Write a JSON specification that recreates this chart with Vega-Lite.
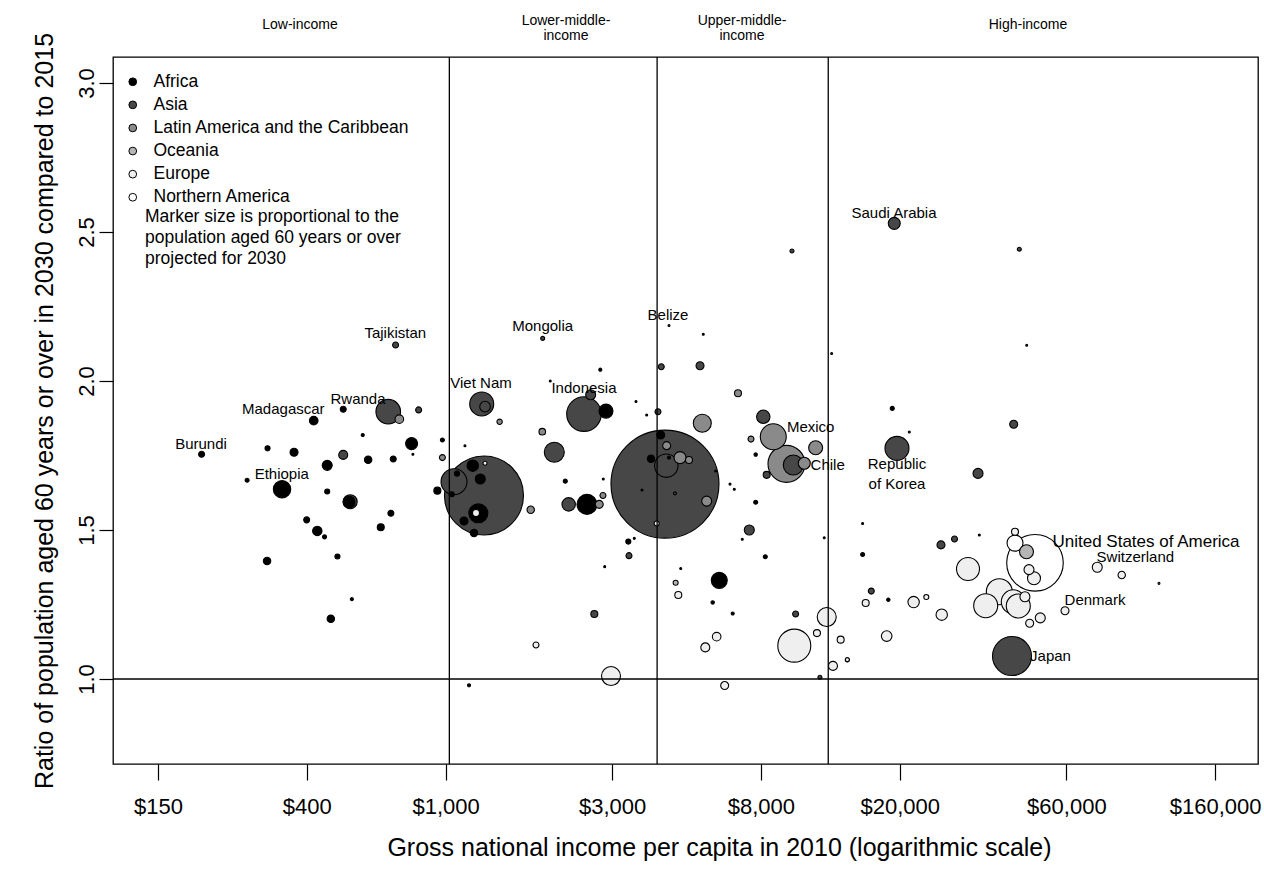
{
  "$schema": "https://vega.github.io/schema/vega-lite/v6.json",
  "width": 1145,
  "height": 707,
  "autosize": {"type": "none"},
  "padding": {"left": 113, "top": 57, "right": 6, "bottom": 118},
  "background": "white",
  "config": {
    "view": {"stroke": "#000000", "strokeWidth": 1.3},
    "font": "Liberation Sans"
  },
  "datasets": {
    "points": [
      {"region":"Africa","gni":419,"ratio":1.867,"pop":2.27},{"region":"Africa","gni":509,"ratio":1.905,"pop":1.10},{"region":"Africa","gni":200,"ratio":1.754,"pop":1.10},{"region":"Africa","gni":309,"ratio":1.774,"pop":0.77},{"region":"Africa","gni":368,"ratio":1.761,"pop":1.96},{"region":"Africa","gni":579,"ratio":1.819,"pop":0.28},{"region":"Africa","gni":799,"ratio":1.790,"pop":4.42},{"region":"Africa","gni":979,"ratio":1.802,"pop":0.49},{"region":"Africa","gni":458,"ratio":1.717,"pop":3.07},{"region":"Africa","gni":600,"ratio":1.736,"pop":1.68},{"region":"Africa","gni":708,"ratio":1.738,"pop":1.10},{"region":"Africa","gni":806,"ratio":1.754,"pop":0.12},{"region":"Africa","gni":340,"ratio":1.637,"pop":9.29},{"region":"Africa","gni":270,"ratio":1.667,"pop":0.49},{"region":"Africa","gni":458,"ratio":1.629,"pop":0.77},{"region":"Africa","gni":529,"ratio":1.594,"pop":4.42},{"region":"Africa","gni":947,"ratio":1.632,"pop":1.50},{"region":"Africa","gni":697,"ratio":1.556,"pop":1.10},{"region":"Africa","gni":400,"ratio":1.534,"pop":1.10},{"region":"Africa","gni":429,"ratio":1.497,"pop":2.71},{"region":"Africa","gni":450,"ratio":1.477,"pop":0.49},{"region":"Africa","gni":652,"ratio":1.509,"pop":1.50},{"region":"Africa","gni":308,"ratio":1.396,"pop":1.68},{"region":"Africa","gni":490,"ratio":1.411,"pop":0.77},{"region":"Africa","gni":539,"ratio":1.268,"pop":0.28},{"region":"Africa","gni":469,"ratio":1.202,"pop":1.68},{"region":"Africa","gni":1136,"ratio":1.783,"pop":0.12},{"region":"Africa","gni":1196,"ratio":1.716,"pop":3.99},{"region":"Africa","gni":1257,"ratio":1.671,"pop":3.07},{"region":"Africa","gni":1078,"ratio":1.689,"pop":0.77},{"region":"Africa","gni":1241,"ratio":1.556,"pop":11.07},{"region":"Africa","gni":1129,"ratio":1.530,"pop":1.96},{"region":"Africa","gni":1206,"ratio":1.490,"pop":1.68},{"region":"Africa","gni":1041,"ratio":1.620,"pop":0.77},{"region":"Africa","gni":2880,"ratio":1.899,"pop":6.01},{"region":"Africa","gni":2202,"ratio":1.664,"pop":0.49},{"region":"Africa","gni":2541,"ratio":1.586,"pop":12.27},{"region":"Africa","gni":3337,"ratio":1.461,"pop":0.77},{"region":"Africa","gni":4131,"ratio":1.819,"pop":1.96},{"region":"Africa","gni":3876,"ratio":1.739,"pop":1.68},{"region":"Africa","gni":4364,"ratio":1.743,"pop":0.28},{"region":"Africa","gni":7731,"ratio":1.753,"pop":0.35},{"region":"Africa","gni":6080,"ratio":1.331,"pop":7.85},{"region":"Africa","gni":5821,"ratio":1.257,"pop":0.35},{"region":"Africa","gni":6643,"ratio":1.220,"pop":0.28},{"region":"Africa","gni":8236,"ratio":1.410,"pop":0.49},{"region":"Africa","gni":7731,"ratio":1.593,"pop":0.49},{"region":"Africa","gni":5471,"ratio":2.157,"pop":0.12},{"region":"Africa","gni":1994,"ratio":2.000,"pop":0.12},{"region":"Africa","gni":2774,"ratio":2.038,"pop":0.28},{"region":"Africa","gni":3510,"ratio":1.931,"pop":0.12},{"region":"Africa","gni":3767,"ratio":1.886,"pop":0.12},{"region":"Africa","gni":2829,"ratio":1.671,"pop":0.12},{"region":"Africa","gni":3652,"ratio":1.634,"pop":0.12},{"region":"Africa","gni":1167,"ratio":0.979,"pop":0.28},{"region":"Africa","gni":18540,"ratio":1.266,"pop":0.35},{"region":"Africa","gni":15650,"ratio":1.418,"pop":0.49},{"region":"Africa","gni":19030,"ratio":1.908,"pop":0.49},{"region":"Africa","gni":3471,"ratio":1.472,"pop":0.12},{"region":"Africa","gni":2856,"ratio":1.377,"pop":0.12},{"region":"Africa","gni":4715,"ratio":1.371,"pop":0.12},{"region":"Africa","gni":5937,"ratio":1.698,"pop":0.12},{"region":"Africa","gni":6526,"ratio":1.654,"pop":0.12},{"region":"Africa","gni":6714,"ratio":1.637,"pop":0.12},{"region":"Africa","gni":7076,"ratio":1.469,"pop":0.12},{"region":"Africa","gni":12150,"ratio":1.474,"pop":0.12},{"region":"Africa","gni":15650,"ratio":1.522,"pop":0.12},{"region":"Africa","gni":33790,"ratio":1.483,"pop":0.12},
      {"region":"Asia","gni":719,"ratio":2.121,"pop":1.10},{"region":"Asia","gni":685,"ratio":1.897,"pop":18.56},{"region":"Asia","gni":837,"ratio":1.903,"pop":1.10},{"region":"Asia","gni":509,"ratio":1.752,"pop":2.48},{"region":"Asia","gni":533,"ratio":1.595,"pop":6.01},{"region":"Asia","gni":1269,"ratio":1.923,"pop":17.67},{"region":"Asia","gni":1297,"ratio":1.914,"pop":3.45},{"region":"Asia","gni":1288,"ratio":1.616,"pop":191.4},{"region":"Asia","gni":1057,"ratio":1.662,"pop":20.7},{"region":"Asia","gni":1897,"ratio":2.143,"pop":0.49},{"region":"Asia","gni":2048,"ratio":1.761,"pop":12.27},{"region":"Asia","gni":2491,"ratio":1.889,"pop":36.7},{"region":"Asia","gni":2603,"ratio":1.954,"pop":3.07},{"region":"Asia","gni":4147,"ratio":2.048,"pop":1.10},{"region":"Asia","gni":4058,"ratio":1.897,"pop":1.10},{"region":"Asia","gni":2252,"ratio":1.586,"pop":5.51},{"region":"Asia","gni":4250,"ratio":1.654,"pop":357.8},{"region":"Asia","gni":4287,"ratio":1.716,"pop":16.8},{"region":"Asia","gni":4540,"ratio":1.623,"pop":0.28},{"region":"Asia","gni":5355,"ratio":2.051,"pop":1.96},{"region":"Asia","gni":8128,"ratio":1.880,"pop":5.51},{"region":"Asia","gni":9906,"ratio":1.718,"pop":12.27},{"region":"Asia","gni":8311,"ratio":1.685,"pop":1.50},{"region":"Asia","gni":7411,"ratio":1.500,"pop":3.07},{"region":"Asia","gni":3352,"ratio":1.414,"pop":1.10},{"region":"Asia","gni":2667,"ratio":1.218,"pop":1.50},{"region":"Asia","gni":10060,"ratio":1.218,"pop":1.10},{"region":"Asia","gni":11810,"ratio":1.006,"pop":0.49},{"region":"Asia","gni":9822,"ratio":2.436,"pop":0.49},{"region":"Asia","gni":19280,"ratio":2.529,"pop":4.42},{"region":"Asia","gni":43990,"ratio":2.442,"pop":0.49},{"region":"Asia","gni":19630,"ratio":1.774,"pop":17.67},{"region":"Asia","gni":42390,"ratio":1.855,"pop":1.96},{"region":"Asia","gni":33500,"ratio":1.690,"pop":3.07},{"region":"Asia","gni":28690,"ratio":1.470,"pop":1.10},{"region":"Asia","gni":26240,"ratio":1.450,"pop":1.96},{"region":"Asia","gni":16570,"ratio":1.295,"pop":1.10},{"region":"Asia","gni":14150,"ratio":1.064,"pop":0.49},{"region":"Asia","gni":41920,"ratio":1.077,"pop":46.7},{"region":"Asia","gni":12760,"ratio":2.092,"pop":0.12},{"region":"Asia","gni":21290,"ratio":1.829,"pop":0.12},{"region":"Asia","gni":46190,"ratio":2.120,"pop":0.12},
      {"region":"Latin America and the Caribbean","gni":737,"ratio":1.872,"pop":2.27},{"region":"Latin America and the Caribbean","gni":979,"ratio":1.743,"pop":1.10},{"region":"Latin America and the Caribbean","gni":1428,"ratio":1.863,"pop":0.89},{"region":"Latin America and the Caribbean","gni":1753,"ratio":1.568,"pop":1.68},{"region":"Latin America and the Caribbean","gni":1892,"ratio":1.830,"pop":1.34},{"region":"Latin America and the Caribbean","gni":2755,"ratio":1.586,"pop":1.96},{"region":"Latin America and the Caribbean","gni":2823,"ratio":1.616,"pop":1.10},{"region":"Latin America and the Caribbean","gni":4297,"ratio":1.783,"pop":1.96},{"region":"Latin America and the Caribbean","gni":4364,"ratio":2.186,"pop":0.12},{"region":"Latin America and the Caribbean","gni":6879,"ratio":1.959,"pop":1.50},{"region":"Latin America and the Caribbean","gni":5436,"ratio":1.858,"pop":9.94},{"region":"Latin America and the Caribbean","gni":5595,"ratio":1.597,"pop":3.07},{"region":"Latin America and the Caribbean","gni":8682,"ratio":1.813,"pop":20.7},{"region":"Latin America and the Caribbean","gni":7495,"ratio":1.805,"pop":1.10},{"region":"Latin America and the Caribbean","gni":9471,"ratio":1.722,"pop":42.0},{"region":"Latin America and the Caribbean","gni":10650,"ratio":1.724,"pop":4.42},{"region":"Latin America and the Caribbean","gni":11480,"ratio":1.776,"pop":6.01},{"region":"Latin America and the Caribbean","gni":4693,"ratio":1.743,"pop":4.42},{"region":"Latin America and the Caribbean","gni":4980,"ratio":1.735,"pop":1.50},
      {"region":"Oceania","gni":4560,"ratio":1.323,"pop":0.77},{"region":"Oceania","gni":46120,"ratio":1.427,"pop":6.01},
      {"region":"Europe","gni":1297,"ratio":1.724,"pop":0.49},{"region":"Europe","gni":1222,"ratio":1.557,"pop":1.50},{"region":"Europe","gni":4023,"ratio":1.522,"pop":0.77},{"region":"Europe","gni":4640,"ratio":1.282,"pop":1.50},{"region":"Europe","gni":12350,"ratio":1.208,"pop":11.07},{"region":"Europe","gni":11580,"ratio":1.154,"pop":1.50},{"region":"Europe","gni":13540,"ratio":1.132,"pop":1.50},{"region":"Europe","gni":14150,"ratio":1.065,"pop":0.49},{"region":"Europe","gni":12870,"ratio":1.044,"pop":2.48},{"region":"Europe","gni":9972,"ratio":1.112,"pop":33.4},{"region":"Europe","gni":5976,"ratio":1.142,"pop":2.27},{"region":"Europe","gni":5545,"ratio":1.106,"pop":2.48},{"region":"Europe","gni":6300,"ratio":0.978,"pop":1.96},{"region":"Europe","gni":1815,"ratio":1.114,"pop":1.10},{"region":"Europe","gni":2977,"ratio":1.010,"pop":11.07},{"region":"Europe","gni":31360,"ratio":1.369,"pop":16.2},{"region":"Europe","gni":15970,"ratio":1.255,"pop":1.50},{"region":"Europe","gni":21910,"ratio":1.258,"pop":3.99},{"region":"Europe","gni":23820,"ratio":1.275,"pop":0.77},{"region":"Europe","gni":26370,"ratio":1.216,"pop":3.99},{"region":"Europe","gni":18340,"ratio":1.144,"pop":3.45},{"region":"Europe","gni":35240,"ratio":1.246,"pop":17.67},{"region":"Europe","gni":38550,"ratio":1.293,"pop":20.7},{"region":"Europe","gni":42280,"ratio":1.259,"pop":17.67},{"region":"Europe","gni":43690,"ratio":1.245,"pop":17.67},{"region":"Europe","gni":45650,"ratio":1.276,"pop":3.07},{"region":"Europe","gni":47100,"ratio":1.187,"pop":1.96},{"region":"Europe","gni":50510,"ratio":1.205,"pop":3.07},{"region":"Europe","gni":42760,"ratio":1.494,"pop":1.50},{"region":"Europe","gni":46890,"ratio":1.367,"pop":3.07},{"region":"Europe","gni":48460,"ratio":1.338,"pop":5.18},{"region":"Europe","gni":73560,"ratio":1.375,"pop":3.07},{"region":"Europe","gni":86440,"ratio":1.349,"pop":1.68},{"region":"Europe","gni":59460,"ratio":1.229,"pop":1.96},{"region":"Europe","gni":110500,"ratio":1.321,"pop":0.12},
      {"region":"Northern America","gni":48780,"ratio":1.390,"pop":98.2},{"region":"Northern America","gni":42760,"ratio":1.456,"pop":7.85}
    ],
    "thresholds": [
      {"gni": 1025, "ratio": 0.7148, "ratio2": 3.0872},
      {"gni": 4035, "ratio": 0.7148, "ratio2": 3.0872},
      {"gni": 12475, "ratio": 0.7148, "ratio2": 3.0872}
    ],
    "baseline": [{"gni": 111.5, "gni2": 212350, "ratio": 1}],
    "countries": [
      {"label":"Burundi","gni":199.2,"ratio":1.789},
      {"label":"Madagascar","gni":342.8,"ratio":1.905},
      {"label":"Rwanda","gni":561.1,"ratio":1.941},
      {"label":"Tajikistan","gni":717.3,"ratio":2.160},
      {"label":"Ethiopia","gni":339.4,"ratio":1.687},
      {"label":"Viet Nam","gni":1263,"ratio":1.992},
      {"label":"Mongolia","gni":1897,"ratio":2.185},
      {"label":"Indonesia","gni":2491,"ratio":1.978},
      {"label":"Belize","gni":4335,"ratio":2.221},
      {"label":"Saudi Arabia","gni":19250,"ratio":2.565},
      {"label":"Mexico","gni":11110,"ratio":1.847},
      {"label":"Chile","gni":12430,"ratio":1.718},
      {"label":"Republic","gni":19630,"ratio":1.720},
      {"label":"of Korea","gni":19630,"ratio":1.653},
      {"label":"Switzerland","gni":94540,"ratio":1.410},
      {"label":"Denmark","gni":72460,"ratio":1.265},
      {"label":"Japan","gni":54030,"ratio":1.077}
    ],
    "usa": [
      {"label":"United States of America","gni":101460,"ratio":1.459}
    ],
    "bands": [
      {"label":"Low-income","gni":382.7,"ratio":3.195},
      {"label":"Lower-middle-","gni":2212,"ratio":3.208},
      {"label":"income","gni":2212,"ratio":3.158},
      {"label":"Upper-middle-","gni":7063,"ratio":3.208},
      {"label":"income","gni":7063,"ratio":3.158},
      {"label":"High-income","gni":46580,"ratio":3.195}
    ],
    "note": [
      {"label":"Marker size is proportional to the","gni":137.7,"ratio":2.5503},
      {"label":"population aged 60 years or over","gni":137.7,"ratio":2.4799},
      {"label":"projected for 2030","gni":137.7,"ratio":2.4094}
    ]
  },
  "encoding": {
    "x": {"field": "gni", "type": "quantitative",
      "scale": {"type": "log", "domain": [111.5, 212350], "nice": false},
      "axis": {"values": [150, 400, 1000, 3000, 8000, 20000, 60000, 160000], "labelExpr": "'$' + format(datum.value, ',')", "domain": false, "grid": false, "ticks": true, "tickColor": "#000000", "tickWidth": 1.2, "tickSize": 16, "labelColor": "#000000", "labelFont": "Liberation Sans", "labelFontSize": 22, "labelPadding": 16, "labelFlush": false, "labelOverlap": false, "title": "Gross national income per capita in 2010 (logarithmic scale)", "titleFont": "Liberation Sans", "titleFontWeight": "normal", "titleColor": "#000000", "titleFontSize": 25, "titlePadding": 18, "titleX": 606, "titleAlign": "center"}},
    "y": {"field": "ratio", "type": "quantitative",
      "scale": {"domain": [0.7148, 3.0872], "nice": false, "zero": false},
      "axis": {"values": [1, 1.5, 2, 2.5, 3], "format": ".1f", "domain": false, "grid": false, "ticks": true, "tickColor": "#000000", "tickWidth": 1.2, "tickSize": 14, "labelAngle": -90, "labelAlign": "center", "labelBaseline": "bottom", "labelColor": "#000000", "labelFont": "Liberation Sans", "labelFontSize": 22, "labelPadding": 1, "labelFlush": false, "labelOverlap": false, "title": "Ratio of population aged 60 years or over in 2030 compared to 2015", "titleFont": "Liberation Sans", "titleFontWeight": "normal", "titleColor": "#000000", "titleFontSize": 25, "titlePadding": 18}}
  },
  "layer": [
    {
      "data": {"name": "points"},
      "mark": {"type": "point", "shape": "circle", "filled": true, "stroke": "#000000", "strokeWidth": 1.1, "opacity": 1, "fillOpacity": 1},
      "encoding": {
        "fill": {"field": "region", "type": "nominal",
          "scale": {"domain": ["Africa", "Asia", "Latin America and the Caribbean", "Oceania", "Europe", "Northern America"], "range": ["#000000", "#474747", "#8a8a8a", "#b5b5b5", "#efefef", "#ffffff"]},
          "legend": {"title": null, "orient": "none", "legendX": 11, "legendY": 16, "labelFontSize": 17.5, "labelFont": "Liberation Sans", "labelColor": "#000000", "labelLimit": 500, "symbolType": "circle", "symbolSize": 60, "symbolStrokeColor": "#000000", "symbolStrokeWidth": 1, "rowPadding": 4.1, "labelOffset": 12, "padding": 0}},
        "size": {"field": "pop", "type": "quantitative", "scale": {"type": "linear", "domain": [0, 357.8], "range": [0, 11664], "zero": true}, "legend": null},
        "order": {"field": "pop", "sort": "descending"}
      }
    },
    {
      "data": {"name": "thresholds"},
      "mark": {"type": "rule", "color": "#000000", "strokeWidth": 1.3},
      "encoding": {"y2": {"field": "ratio2"}}
    },
    {
      "data": {"name": "baseline"},
      "mark": {"type": "rule", "color": "#000000", "strokeWidth": 1.3},
      "encoding": {"x2": {"field": "gni2"}}
    },
    {
      "data": {"name": "countries"},
      "mark": {"type": "text", "fontSize": 15, "font": "Liberation Sans", "color": "#000000", "align": "center", "baseline": "middle", "clip": false},
      "encoding": {"text": {"field": "label"}}
    },
    {
      "data": {"name": "usa"},
      "mark": {"type": "text", "fontSize": 17, "font": "Liberation Sans", "color": "#000000", "align": "center", "baseline": "middle", "clip": false},
      "encoding": {"text": {"field": "label"}}
    },
    {
      "data": {"name": "bands"},
      "mark": {"type": "text", "fontSize": 14, "font": "Liberation Sans", "color": "#000000", "align": "center", "baseline": "middle", "clip": false},
      "encoding": {"text": {"field": "label"}}
    },
    {
      "data": {"name": "note"},
      "mark": {"type": "text", "fontSize": 17.5, "font": "Liberation Sans", "color": "#000000", "align": "left", "baseline": "middle", "clip": false},
      "encoding": {"text": {"field": "label"}}
    }
  ]
}
